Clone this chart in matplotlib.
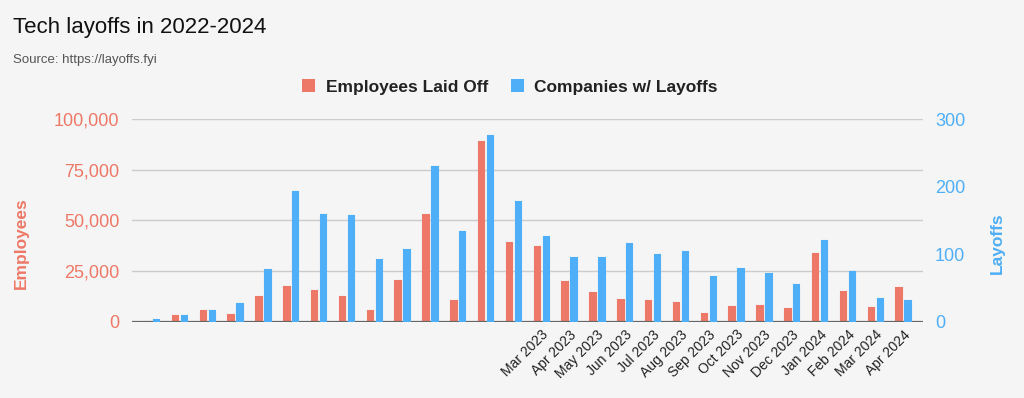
import numpy as np
import matplotlib
matplotlib.use("Agg")
import matplotlib.pyplot as plt
from matplotlib.patches import Patch

# monthly totals Jan 2022 .. Apr 2024
employees = [500, 3300, 5700, 3900, 12800, 17700, 16000, 12800, 5700, 20600,
             53200, 10600, 89200, 39300, 37600, 20000, 15000, 11100, 10600, 10000,
             4600, 7700, 8300, 6700, 33900, 15500, 7200, 17200]
companies = [4, 11, 17, 28, 78, 194, 160, 158, 93, 108,
             231, 134, 276, 179, 127, 96, 96, 116, 100, 105,
             68, 80, 72, 56, 121, 76, 35, 33]
# only the last 14 months carry a label in the original
tick_labels = [''] * 14 + ['Mar 2023', 'Apr 2023', 'May 2023', 'Jun 2023', 'Jul 2023',
                           'Aug 2023', 'Sep 2023', 'Oct 2023', 'Nov 2023', 'Dec 2023',
                           'Jan 2024', 'Feb 2024', 'Mar 2024', 'Apr 2024']
left_ticks = [0, 25000, 50000, 75000, 100000]
right_ticks = [0, 100, 200, 300]

red = '#ee7867'
blue = '#4eaef7'
bg = '#f5f5f5'

plt.rcParams['font.family'] = ['Liberation Sans', 'DejaVu Sans']

fig = plt.figure(figsize=(10.24, 3.98), dpi=100, facecolor=bg)
ax = fig.add_axes([0.129, 0.191, 0.772, 0.510])
ax.set_facecolor(bg)
ax2 = ax.twinx()

x = np.arange(len(employees))
w = 0.23
off = 0.16
ax.bar(x - off, employees, w, color=red, edgecolor=red, linewidth=0.8,
       joinstyle='round', zorder=3)
ax2.bar(x + off, companies, w, color=blue, edgecolor=blue, linewidth=0.8,
        joinstyle='round', zorder=3)

ax.set_xlim(-0.7, len(x) - 0.3)
ax.set_ylim(0, 100000)
ax2.set_ylim(0, 300)

ax.set_yticks(left_ticks)
ax.set_yticklabels([f'{v:,}' for v in left_ticks], color=red, fontsize=13)
ax2.set_yticks(right_ticks)
ax2.set_yticklabels([str(v) for v in right_ticks], color=blue, fontsize=13)

ax.set_xticks(x)
ax.set_xticklabels(tick_labels, rotation=45, ha='right', rotation_mode='anchor',
                   fontsize=10, color='#222222')

for a in (ax, ax2):
    for s in a.spines.values():
        s.set_visible(False)
    a.tick_params(length=0)
ax.tick_params(axis='y', pad=9)
ax2.tick_params(axis='y', pad=9)
ax.tick_params(axis='x', pad=4)

ax.grid(axis='y', color='#cccccc', linewidth=1, zorder=0)
ax.set_axisbelow(True)
ax.axhline(0, color='#666666', linewidth=1.6, zorder=4)

fig.text(0.013, 0.93, 'Tech layoffs in 2022-2024', fontsize=16, color='#111111',
         va='center', ha='left')
fig.text(0.013, 0.85, 'Source: https://layoffs.fyi', fontsize=9.5, color='#555555',
         va='center', ha='left')

fig.text(0.021, 0.389, 'Employees', rotation=90, color=red, fontsize=12.5,
         fontweight='bold', ha='center', va='center')
fig.text(0.974, 0.389, 'Layoffs', rotation=90, color=blue, fontsize=12.5,
         fontweight='bold', ha='center', va='center')

handles = [Patch(facecolor=red, label='Employees Laid Off'),
           Patch(facecolor=blue, label='Companies w/ Layoffs')]
leg = fig.legend(handles=handles, loc='center', bbox_to_anchor=(0.498, 0.781),
                 ncol=2, frameon=False, handlelength=0.75, handleheight=0.75,
                 handletextpad=0.6, columnspacing=1.3,
                 prop={'weight': 'bold', 'size': 12.5})
for t in leg.get_texts():
    t.set_color('#222222')

fig.savefig('out.png', dpi=100, facecolor=bg)
